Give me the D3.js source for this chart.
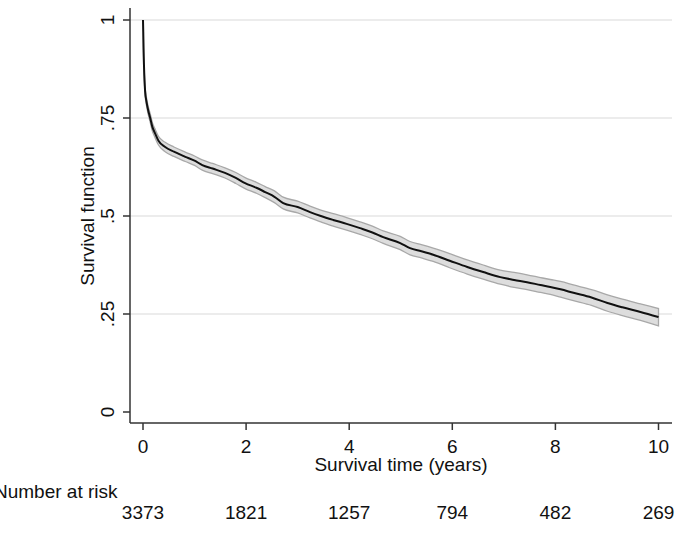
<!DOCTYPE html>
<html>
<head>
<meta charset="utf-8">
<script src="https://cdn.jsdelivr.net/npm/d3@7"></script>
<style>
  body { margin: 0; background: #fff; }
  svg { display: block; font-family: 'Liberation Sans', Arial, sans-serif; }
</style>
</head>
<body>
<svg id="km"></svg>
<script>
// Kaplan-Meier estimate (years, survival)
var times = [0, 0.005, 0.01, 0.02, 0.04, 0.07, 0.1, 0.14, 0.18, 0.23, 0.3, 0.43, 0.6, 0.82, 1.0,
    1.15, 1.35, 1.59, 1.8, 1.98, 2.2, 2.37, 2.55, 2.72, 3.0, 3.24, 3.45, 3.69, 3.95, 4.21,
    4.45, 4.66, 4.99, 5.18, 5.4, 5.63, 5.95, 6.29, 6.6, 6.93, 7.2, 7.45, 7.71, 7.9, 8.1,
    8.35, 8.7, 9.01, 9.3, 9.65, 10.0];
var surv = [1, 0.97, 0.93, 0.88, 0.82, 0.79, 0.77, 0.75, 0.728, 0.712, 0.692, 0.676, 0.664, 0.651, 0.641,
    0.630, 0.621, 0.610, 0.597, 0.584, 0.572, 0.561, 0.549, 0.533, 0.523, 0.510, 0.500, 0.490, 0.480, 0.469,
    0.458, 0.446, 0.431, 0.418, 0.410, 0.401, 0.386, 0.370, 0.357, 0.344, 0.337, 0.331, 0.324, 0.319, 0.313,
    0.304, 0.292, 0.278, 0.267, 0.255, 0.242];
// half width of the 95% band
var ci_half = [0, 0.005, 0.007, 0.009, 0.010, 0.010, 0.010, 0.011, 0.011, 0.011, 0.011, 0.012, 0.012, 0.012, 0.012,
    0.013, 0.013, 0.013, 0.014, 0.014, 0.014, 0.014, 0.015, 0.015, 0.015, 0.015, 0.015, 0.016, 0.016, 0.016,
    0.016, 0.016, 0.017, 0.017, 0.017, 0.017, 0.018, 0.018, 0.018, 0.018, 0.019, 0.019, 0.019, 0.019, 0.020,
    0.020, 0.020, 0.021, 0.021, 0.021, 0.022];

var x_ticks = [0, 2, 4, 6, 8, 10];
var y_ticks = [0, 0.25, 0.5, 0.75, 1];
var y_tick_labels = ['0', '.25', '.5', '.75', '1'];
var at_risk = [3373, 1821, 1257, 794, 482, 269];

var width = 679, height = 540;
var font_size = 19;
var color_text = '#111';
var color_axis = '#333';
var color_grid = '#e6e6e6';

var svg = d3.select('#km')
    .attr('width', width)
    .attr('height', height);

var x = d3.scaleLinear().domain([0, 10]).range([143, 658.5]);
var y = d3.scaleLinear().domain([0, 1]).range([412, 20]);
var plot_left = 130, plot_right = 672, plot_top = 8, plot_bottom = 423;

// grid lines
svg.append('g').selectAll('line')
    .data(y_ticks.filter(function(d) { return d > 0; }))
    .enter().append('line')
    .attr('x1', plot_left).attr('x2', plot_right)
    .attr('y1', function(d) { return y(d); })
    .attr('y2', function(d) { return y(d); })
    .attr('stroke', color_grid)
    .attr('stroke-width', 1.5);

var pts = times.map(function(t, i) {
    return {t: t, s: surv[i], lo: surv[i] - ci_half[i], hi: surv[i] + ci_half[i]};
});

// confidence band
var area = d3.area()
    .x(function(d) { return x(d.t); })
    .y0(function(d) { return y(d.lo); })
    .y1(function(d) { return y(Math.min(1, d.hi)); })
    .curve(d3.curveMonotoneX);
svg.append('path')
    .datum(pts)
    .attr('d', area)
    .attr('fill', '#dddddd')
    .attr('stroke', '#a8a8a8')
    .attr('stroke-width', 1.3);

// survival curve
var line = d3.line()
    .x(function(d) { return x(d.t); })
    .y(function(d) { return y(d.s); })
    .curve(d3.curveMonotoneX);
svg.append('path')
    .datum(pts)
    .attr('d', line)
    .attr('fill', 'none')
    .attr('stroke', '#111')
    .attr('stroke-width', 2);

// y axis
var g_y = svg.append('g');
g_y.append('line')
    .attr('x1', plot_left).attr('x2', plot_left)
    .attr('y1', plot_top).attr('y2', plot_bottom)
    .attr('stroke', color_axis).attr('stroke-width', 1.5);
y_ticks.forEach(function(d, i) {
    g_y.append('line')
        .attr('x1', plot_left - 7).attr('x2', plot_left)
        .attr('y1', y(d)).attr('y2', y(d))
        .attr('stroke', color_axis).attr('stroke-width', 1.5);
    g_y.append('text')
        .attr('transform', 'translate(' + (plot_left - 16) + ',' + y(d) + ') rotate(-90)')
        .attr('text-anchor', 'middle')
        .attr('font-size', font_size)
        .attr('fill', color_text)
        .text(y_tick_labels[i]);
});
svg.append('text')
    .attr('transform', 'translate(94,' + y(0.5) + ') rotate(-90)')
    .attr('text-anchor', 'middle')
    .attr('font-size', font_size)
    .attr('fill', color_text)
    .text('Survival function');

// x axis
var g_x = svg.append('g');
g_x.append('line')
    .attr('x1', plot_left).attr('x2', plot_right)
    .attr('y1', plot_bottom).attr('y2', plot_bottom)
    .attr('stroke', color_axis).attr('stroke-width', 1.5);
x_ticks.forEach(function(d) {
    g_x.append('line')
        .attr('x1', x(d)).attr('x2', x(d))
        .attr('y1', plot_bottom).attr('y2', plot_bottom + 7)
        .attr('stroke', color_axis).attr('stroke-width', 1.5);
    g_x.append('text')
        .attr('x', x(d)).attr('y', 453)
        .attr('text-anchor', 'middle')
        .attr('font-size', font_size)
        .attr('fill', color_text)
        .text(d);
});
svg.append('text')
    .attr('x', (plot_left + plot_right) / 2).attr('y', 471)
    .attr('text-anchor', 'middle')
    .attr('font-size', font_size)
    .attr('fill', color_text)
    .text('Survival time (years)');

// number at risk table
svg.append('text')
    .attr('x', -6).attr('y', 498)
    .attr('font-size', font_size)
    .attr('fill', color_text)
    .text('Number at risk');
svg.append('g').selectAll('text')
    .data(at_risk)
    .enter().append('text')
    .attr('x', function(d, i) { return x(x_ticks[i]); })
    .attr('y', 519)
    .attr('text-anchor', 'middle')
    .attr('font-size', font_size)
    .attr('fill', color_text)
    .text(function(d) { return d; });
</script>
</body>
</html>
